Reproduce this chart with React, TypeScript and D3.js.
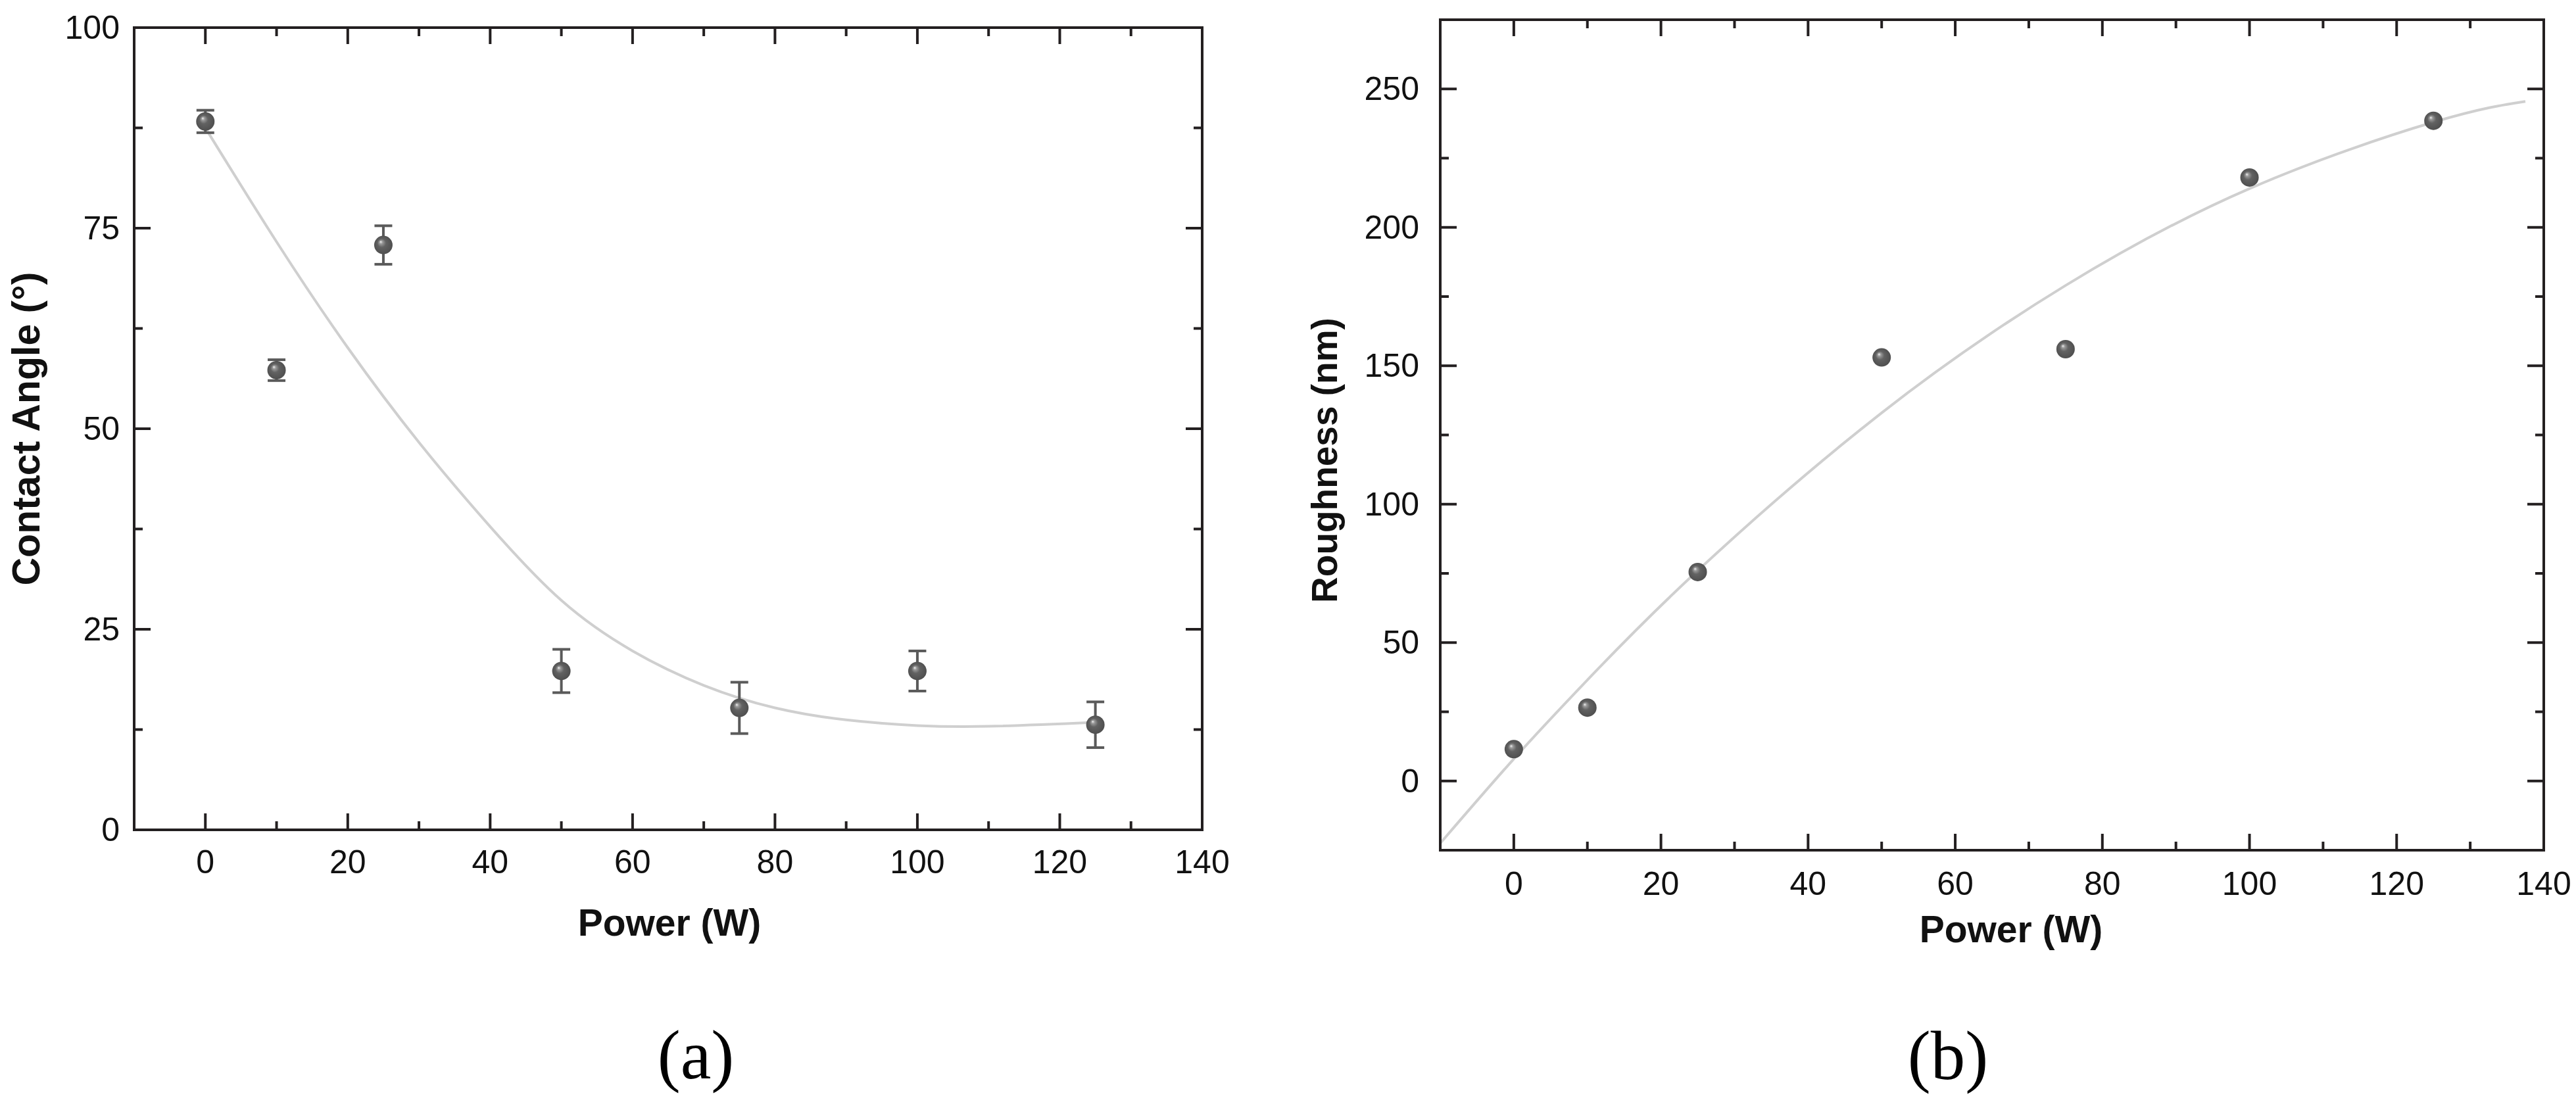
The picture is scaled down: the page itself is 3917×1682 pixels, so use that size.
import React from "react";
import * as d3 from "d3";

// ---------- data ----------
const powerA = [0, 10, 25, 50, 75, 100, 125];
const contactAngle = [88.3, 57.3, 72.9, 19.8, 15.2, 19.8, 13.1];
const contactAngleErr = [1.4, 1.3, 2.4, 2.7, 3.2, 2.5, 2.85];
const fitAX = [0, 10, 20, 30, 40, 50, 60, 70, 80, 90, 100, 110, 125];
const fitAY = [87.5, 73.3, 60.1, 48.3, 37.8, 28.6, 22.3, 18.0, 15.2, 13.7, 13.0, 12.9, 13.4];

const powerB = [0, 10, 25, 50, 75, 100, 125];
const roughness = [11.5, 26.5, 75.5, 153, 156, 218, 238.5];
const fitBX = [-10, 0, 10, 25, 50, 75, 100, 125, 137.5];
const fitBY = [-22.5, 8, 36.5, 76, 133, 179, 214, 238, 245.5];

const xMajor = [0, 20, 40, 60, 80, 100, 120, 140];
const xMinor = [10, 30, 50, 70, 90, 110, 130];
const yMajorA = [0, 25, 50, 75, 100];
const yMinorA = [12.5, 37.5, 62.5, 87.5];
const yMajorB = [0, 50, 100, 150, 200, 250];
const yMinorB = [25, 75, 125, 175, 225];

const AXIS = "#231f20";
const MARK = "#5a5a5a";
const FIT = "#cfcfcf";
const SANS = "'Liberation Sans', Arial, Helvetica, sans-serif";
const SERIF = "'Liberation Serif', 'Times New Roman', serif";
const MAJ = 25;
const MIN = 13;
const TICK_FS = 50;

type Lin = d3.ScaleLinear<number, number>;

function Frame({ x, y, xMaj, xMin, yMaj, yMin, keyp }: { x: Lin; y: Lin; xMaj: number[]; xMin: number[]; yMaj: number[]; yMin: number[]; keyp: string }) {
  const [x0, x1] = x.range();
  const [y0, y1] = y.range();
  const [dx0, dx1] = x.domain();
  const [dy0, dy1] = y.domain();
  const inX = (v: number) => v > dx0 && v < dx1;
  const inY = (v: number) => v > dy0 && v < dy1;
  const els: React.ReactNode[] = [];
  const push = (xs: number[], len: number, tag: string) =>
    xs.filter(inX).forEach((v, i) => {
      els.push(<line key={`${keyp}b${tag}${i}`} x1={x(v)} x2={x(v)} y1={y0} y2={y0 - len} />);
      els.push(<line key={`${keyp}t${tag}${i}`} x1={x(v)} x2={x(v)} y1={y1} y2={y1 + len} />);
    });
  const pushY = (ys: number[], len: number, tag: string) =>
    ys.filter(inY).forEach((v, i) => {
      els.push(<line key={`${keyp}l${tag}${i}`} x1={x0} x2={x0 + len} y1={y(v)} y2={y(v)} />);
      els.push(<line key={`${keyp}r${tag}${i}`} x1={x1} x2={x1 - len} y1={y(v)} y2={y(v)} />);
    });
  push(xMaj, MAJ, "M");
  push(xMin, MIN, "m");
  pushY(yMaj, MAJ, "M");
  pushY(yMin, MIN, "m");
  return (
    <g stroke={AXIS} strokeWidth={4} fill="none">
      {els}
      <rect x={x0} y={y1} width={x1 - x0} height={y0 - y1} strokeLinejoin="miter" />
    </g>
  );
}

function Labels({ x, y, xMaj, yMaj, yGap, xGap }: { x: Lin; y: Lin; xMaj: number[]; yMaj: number[]; yGap: number; xGap: number }) {
  const [x0] = x.range();
  const [y0] = y.range();
  return (
    <g fontFamily={SANS} fontSize={TICK_FS} fill="#111">
      {xMaj.map((v) => (
        <text key={`xl${v}`} x={x(v)} y={y0 + xGap} textAnchor="middle">
          {v}
        </text>
      ))}
      {yMaj.map((v) => (
        <text key={`yl${v}`} x={x0 - yGap} y={y(v)} textAnchor="end" dominantBaseline="central">
          {v}
        </text>
      ))}
    </g>
  );
}

export default function App() {
  const xA = d3.scaleLinear().domain([-10, 140]).range([204, 1828]);
  const yA = d3.scaleLinear().domain([0, 100]).range([1262, 42]);
  const xB = d3.scaleLinear().domain([-10, 140]).range([2190, 3868]);
  const yB = d3.scaleLinear().domain([-25, 275]).range([1293, 30]);

  const lineA = d3
    .line<number>()
    .x((d) => xA(d))
    .y((_, i) => yA(fitAY[i]))
    .curve(d3.curveNatural);
  const lineB = d3
    .line<number>()
    .x((d) => xB(d))
    .y((_, i) => yB(fitBY[i]))
    .curve(d3.curveNatural);

  const R = 14;
  const CAP = 13.5;

  return (
    <svg
      width={3917}
      height={1682}
      viewBox="0 0 3917 1682"
      style={{ position: "absolute", left: 0, top: 0, display: "block", background: "#fff" }}
    >
      <defs>
        <radialGradient id="sphere" cx="50%" cy="50%" r="55%" fx="35%" fy="32%">
          <stop offset="0%" stopColor="#f4f4f4" />
          <stop offset="16%" stopColor="#9a9a9a" />
          <stop offset="42%" stopColor="#626262" />
          <stop offset="100%" stopColor="#4c4c4c" />
        </radialGradient>
      </defs>
      <rect x={0} y={0} width={3917} height={1682} fill="#fff" />

      {/* ---------- panel (a) ---------- */}
      <path d={lineA(fitAX) || ""} fill="none" stroke={FIT} strokeWidth={4} />
      <g stroke={MARK} strokeWidth={4}>
        {powerA.map((p, i) => {
          const cx = xA(p);
          const top = yA(contactAngle[i] + contactAngleErr[i]);
          const bot = yA(contactAngle[i] - contactAngleErr[i]);
          return (
            <g key={`eb${i}`}>
              <line x1={cx} x2={cx} y1={top} y2={bot} />
              <line x1={cx - CAP} x2={cx + CAP} y1={top} y2={top} />
              <line x1={cx - CAP} x2={cx + CAP} y1={bot} y2={bot} />
            </g>
          );
        })}
      </g>
      {powerA.map((p, i) => (
        <circle key={`pa${i}`} cx={xA(p)} cy={yA(contactAngle[i])} r={R} fill="url(#sphere)" />
      ))}
      <Frame x={xA} y={yA} xMaj={xMajor} xMin={xMinor} yMaj={yMajorA} yMin={yMinorA} keyp="a" />
      <Labels x={xA} y={yA} xMaj={xMajor} yMaj={yMajorA} yGap={22} xGap={66} />
      <text x={1018} y={1423} textAnchor="middle" fontFamily={SANS} fontWeight="bold" fontSize={57} fill="#111">
        Power (W)
      </text>
      <text
        transform={`translate(60, ${(yA.range()[0] + yA.range()[1]) / 2}) rotate(-90)`}
        textAnchor="middle"
        fontFamily={SANS}
        fontWeight="bold"
        fontSize={59}
        fill="#111"
      >
        Contact Angle (°)
      </text>
      <text x={1058} y={1640} textAnchor="middle" fontFamily={SERIF} fontSize={105} fill="#000">
        (a)
      </text>

      {/* ---------- panel (b) ---------- */}
      <path d={lineB(fitBX) || ""} fill="none" stroke={FIT} strokeWidth={4} />
      {powerB.map((p, i) => (
        <circle key={`pb${i}`} cx={xB(p)} cy={yB(roughness[i])} r={R} fill="url(#sphere)" />
      ))}
      <Frame x={xB} y={yB} xMaj={xMajor} xMin={xMinor} yMaj={yMajorB} yMin={yMinorB} keyp="b" />
      <Labels x={xB} y={yB} xMaj={xMajor} yMaj={yMajorB} yGap={32} xGap={68} />
      <text x={3058} y={1433} textAnchor="middle" fontFamily={SANS} fontWeight="bold" fontSize={57} fill="#111">
        Power (W)
      </text>
      <text
        transform={`translate(2033, 700) rotate(-90)`}
        textAnchor="middle"
        fontFamily={SANS}
        fontWeight="bold"
        fontSize={55}
        fill="#111"
      >
        Roughness (nm)
      </text>
      <text x={2962} y={1641} textAnchor="middle" fontFamily={SERIF} fontSize={105} fill="#000">
        (b)
      </text>
    </svg>
  );
}
